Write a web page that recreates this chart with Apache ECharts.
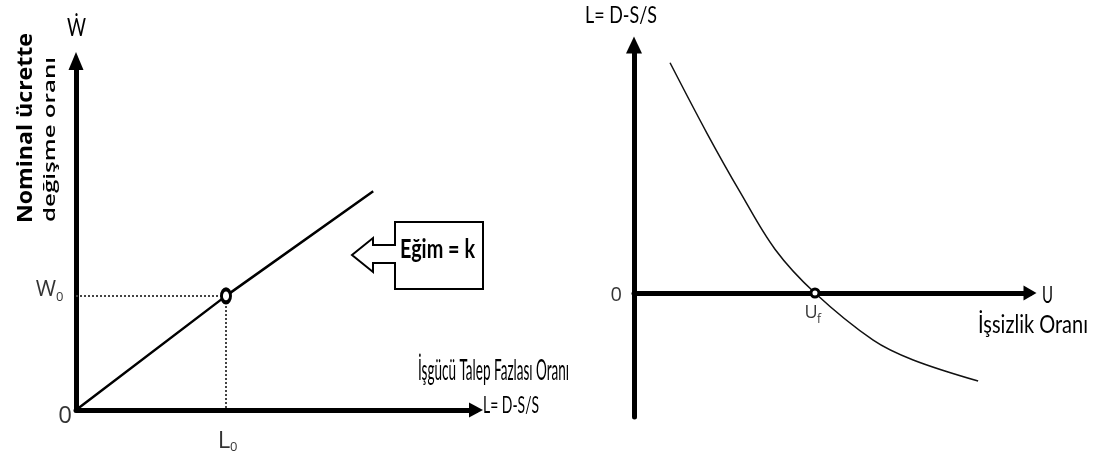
<!DOCTYPE html>
<html>
<head>
<meta charset="utf-8">
<script src="https://cdn.jsdelivr.net/npm/echarts@6/dist/echarts.min.js"></script>
<style>
html, body { margin: 0; background: #fff; }
#the-chart { width: 1097px; height: 457px; }
</style>
</head>
<body>
<div id="the-chart"></div>
<script>
// left panel: wage change vs excess labour demand (straight line through origin)
const wageLine = [[0, 0], [3.75, 3.27], [7.43, 6.27]]
const L0 = 3.75
const W0 = 3.27
// right panel: excess demand vs unemployment
const unemp = [0.91, 1.84, 2.68, 3.56, 4.57, 6.04, 7.05, 8.69]
const excess = [5.57, 3.87, 2.44, 1.06, 0, -1.14, -1.62, -2.13]
const Uf = 4.57

const narrow = "Lato, 'DejaVu Sans', sans-serif"
const wide = "'Open Sans', 'DejaVu Sans', sans-serif"

// squeeze/stretch a text so it covers the same width as in the picture
let ctx = document.createElement('canvas').getContext('2d')
function fitText(text, font, x, y, width, extra) {
  ctx.font = font
  let w = ctx.measureText(text).width
  return Object.assign({
    type: 'text', x: x, y: y, scaleX: width / w, z: 100,
    style: {text: text, font: font, fill: '#000', align: 'left', verticalAlign: 'middle'}
  }, extra || {})
}

function axis(grid, min, max, arrow) {
  return {
    type: 'value', gridIndex: grid, min: min, max: max,
    splitLine: {show: false}, axisTick: {show: false}, axisLabel: {show: false},
    axisLine: {
      lineStyle: {color: '#000', width: 5},
      symbol: ['none', 'triangle'],
      symbolSize: arrow
    }
  }
}

// a text pinned to a data point (offset in px from it)
function tag(value, text, pos, size, align) {
  return {
    value: value,
    label: {
      show: true, formatter: text, position: pos, align: align, verticalAlign: 'middle',
      fontSize: size, fontFamily: wide, color: '#000'
    }
  }
}

let chart = echarts.init(document.getElementById('the-chart'))
chart.setOption({
  animation: false,
  backgroundColor: '#fff',
  grid: [
    {left: 76, right: 621, top: 61, bottom: 47},
    {left: 634, right: 67, top: 45, bottom: 40}
  ],
  xAxis: [axis(0, 0, 10, [15, 14]), axis(1, 0, 10, [15, 13])],
  yAxis: [axis(0, 0, 10, [15, 18]), axis(1, -3, 6, [16, 17])],
  series: [
    {
      type: 'line', xAxisIndex: 0, yAxisIndex: 0, data: wageLine,
      symbol: 'none', lineStyle: {color: '#000', width: 2.5}, silent: true
    },
    {
      type: 'line', xAxisIndex: 0, yAxisIndex: 0,
      data: [[0, W0], [L0, W0], [L0, 0]],
      symbol: 'none', lineStyle: {color: '#444', width: 2, type: 'dotted'}, silent: true
    },
    {
      type: 'scatter', xAxisIndex: 0, yAxisIndex: 0, clip: false, silent: true,
      symbolSize: 0, z: 6,
      data: [
        tag([0, W0], 'W', [-20, -6], 22, 'right'),
        tag([0, W0], '0', [-20, 1], 13, 'left'),
        tag([L0, 0], 'L', [-2, 31], 24, 'center'),
        tag([L0, 0], '0', [4, 37], 13, 'left'),
        tag([0, 0], '0', [-4, 6], 24, 'right')
      ]
    },
    {
      type: 'scatter', xAxisIndex: 0, yAxisIndex: 0, data: [[L0, W0]], silent: true,
      symbolSize: [9, 13], z: 5,
      itemStyle: {color: '#fff', borderColor: '#000', borderWidth: 3.5, opacity: 1}
    },
    {
      type: 'line', xAxisIndex: 1, yAxisIndex: 1, smooth: 0.35,
      data: unemp.map((u, i) => [u, excess[i]]),
      symbol: 'none', lineStyle: {color: '#111', width: 1.5}, silent: true
    },
    {
      type: 'scatter', xAxisIndex: 1, yAxisIndex: 1, clip: false, silent: true,
      symbolSize: 0, z: 6,
      data: [
        tag([0, 0], '0', [-12, 2], 20, 'right'),
        tag([Uf, 0], 'U', [-4, 20], 18, 'center'),
        tag([Uf, 0], 'f', [2, 27], 12, 'left')
      ]
    },
    {
      type: 'scatter', xAxisIndex: 1, yAxisIndex: 1, data: [[Uf, 0]], silent: true,
      symbolSize: 8, z: 5,
      itemStyle: {color: '#fff', borderColor: '#000', borderWidth: 3, opacity: 1}
    }
  ],
  graphic: [
    // "Eğim = k" callout, a box with a block arrow pointing at the line
    {
      type: 'polygon', z: 90,
      shape: {points: [[395, 222], [483, 222], [483, 289], [395, 289], [395, 263], [373, 263],
        [373, 272], [352, 255], [373, 238], [373, 245], [395, 245]]},
      style: {fill: '#fff', stroke: '#000', lineWidth: 2}
    },
    fitText('Eğim = k', 'bold 26px ' + narrow, 400, 250, 75),
    fitText('Ẇ', '25px ' + narrow, 67, 28, 19),
    fitText('Nominal ücrette', 'bold 22px ' + wide, 26, 223, 190, {rotation: Math.PI / 2}),
    fitText('değişme oranı', '600 17px ' + wide, 50, 222, 165, {rotation: Math.PI / 2}),
    fitText('İşgücü Talep Fazlası Oranı', '28px ' + narrow, 418, 371, 151),
    fitText('L= D-S/S', '24px ' + narrow, 483, 405, 56),
    fitText('L= D-S/S', '24px ' + narrow, 585, 15, 72),
    fitText('U', '24px ' + narrow, 1042, 295, 11),
    fitText('İşsizlik Oranı', '25px ' + narrow, 978, 325, 110)
  ]
})
</script>
</body>
</html>
